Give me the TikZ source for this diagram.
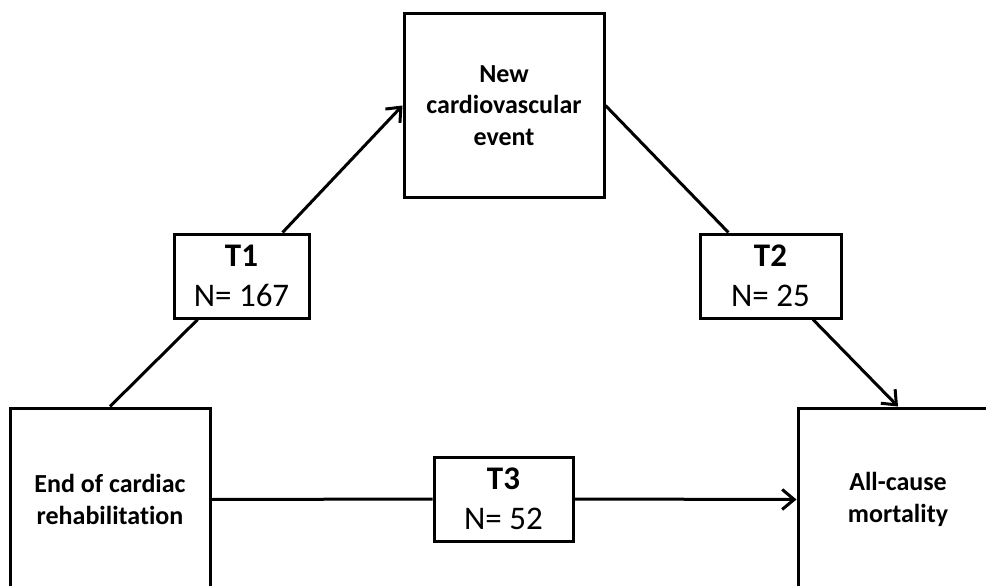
\documentclass[tikz,border=0pt]{standalone}
\usepackage{fontspec}
\setmainfont[Ligatures={NoCommon}]{Carlito}
\usetikzlibrary{arrows.meta}
\begin{document}
\begin{tikzpicture}[x=1pt,y=-1pt,
  stagebox/.style={draw, line width=3pt, fill=white, minimum width=200pt,
    minimum height=183pt, inner sep=0pt, align=center,
    font=\fontsize{26}{31.7}\selectfont\bfseries},
  timebox/.style={draw, line width=3pt, fill=white, minimum height=84pt,
    inner sep=0pt, align=center, font=\fontsize{33}{40}\selectfont},
  link/.style={line width=3pt},
  arrowlink/.style={link, -{Straight Barb[length=12pt,width=20pt,line width=3pt]}}]
  \useasboundingbox (0,0) rectangle (986,586);
  \clip (0,0) rectangle (986,586);

  % the three states
  \node[stagebox] (start) at (110,499.5) {End of cardiac\\rehabilitation};
  \node[stagebox] (event) at (504,105.5) {New\\cardiovascular\\event};
  \node[stagebox] (death) at (898,499.5) {All-cause\\mortality};

  % transitions with their counts
  \node[timebox, minimum width=135pt] (t1) at (241.5,276) {\textbf{T1}\\N= 167};
  \node[timebox, minimum width=141pt] (t2) at (770.5,276) {\textbf{T2}\\N= 25};
  \node[timebox, minimum width=139pt] (t3) at (503.5,499) {\textbf{T3}\\N= 52};

  \draw[link] (start.north) -- (t1);
  \draw[arrowlink] (t1) -- (event.west);
  \draw[link] (event.east) -- (t2);
  \draw[arrowlink] (t2) -- (death.north);
  \draw[link] (start.east) -- (t3.west);
  \draw[arrowlink] (t3.east) -- (death.west);
\end{tikzpicture}
\end{document}
